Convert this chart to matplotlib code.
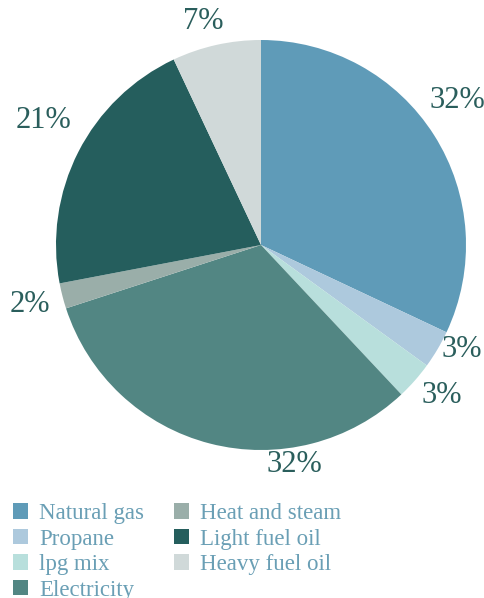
import matplotlib.pyplot as plt

# energy sources share
sources = ['Natural gas', 'Propane', 'lpg mix', 'Electricity',
           'Heat and steam', 'Light fuel oil', 'Heavy fuel oil']
shares = [32, 3, 3, 32, 2, 21, 7]
colors = ['#5f9bb8', '#adc9dd', '#b8dfdc', '#528683',
          '#9aaea9', '#255e5d', '#d0d9d9']
# where each percentage sits, in pie radii
label_pos = [(0.956, 0.707), (0.980, -0.512), (0.883, -0.732),
             (0.165, -1.073), (-1.127, -0.288), (-1.059, 0.605),
             (-0.283, 1.088)]

W, H = 485, 598
fig = plt.figure(figsize=(W / 100, H / 100), dpi=100)

# pie centre at (261, 245) px, radius 205 px
cx, cy, r = 261, 245, 205
ax = fig.add_axes([(cx - r) / W, (H - cy - r) / H, 2 * r / W, 2 * r / H])

wedges, texts, autotexts = ax.pie(
    shares, colors=colors, startangle=90, counterclock=False,
    autopct='%d%%', radius=1,
    wedgeprops={'linewidth': 0},
    textprops={'fontsize': 22, 'color': '#2a5e5c', 'family': 'Liberation Serif'})
for t, (x, y) in zip(autotexts, label_pos):
    t.set_position((x, y))
    t.set_ha('center')
    t.set_va('center')
ax.set_xlim(-1, 1)
ax.set_ylim(-1, 1)
ax.set_aspect('equal')
ax.axis('off')

fig.legend(wedges, sources, ncol=2, loc='upper left',
           bbox_to_anchor=(13 / W, (H - 503) / H), frameon=False,
           prop={'family': 'Liberation Serif', 'size': 16.5},
           labelcolor='#6a9fb5', handlelength=0.65, handleheight=0.65,
           handletextpad=0.5, columnspacing=1.3, labelspacing=0.2,
           borderpad=0, borderaxespad=0)

fig.savefig('out.png', dpi=100)
